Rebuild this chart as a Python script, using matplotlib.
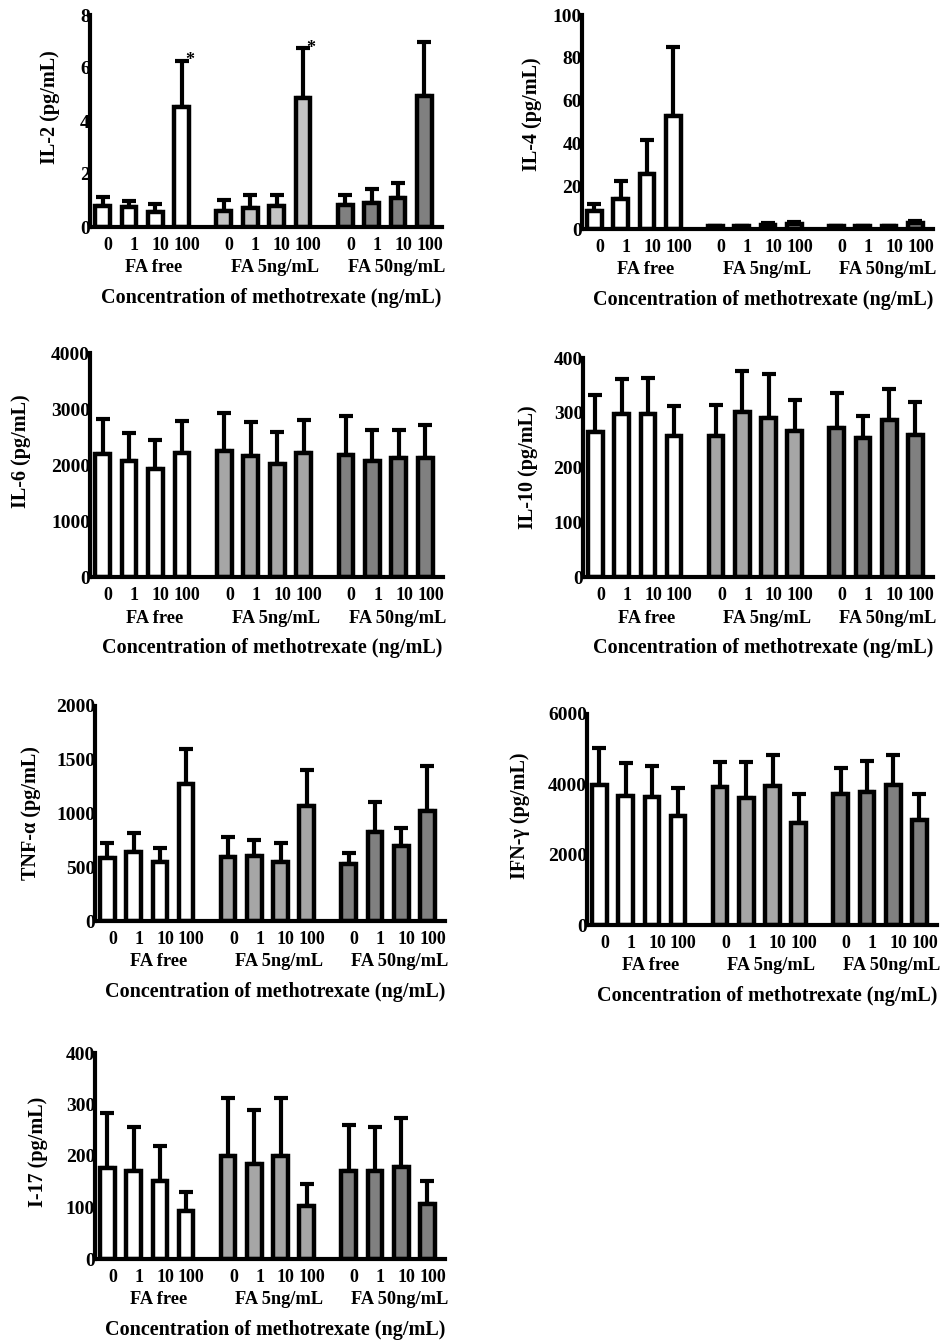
import matplotlib
matplotlib.use("Agg")
import matplotlib.pyplot as plt
import matplotlib.transforms as mtrans
import numpy as np

plt.rcParams['font.family'] = ['Liberation Serif', 'DejaVu Serif']
plt.rcParams['font.weight'] = 'bold'

W, H = 946, 1343

conc_labels = ["0", "1", "10", "100"]
group_labels = ["FA free", "FA 5ng/mL", "FA 50ng/mL"]
xlabel = "Concentration of methotrexate (ng/mL)"

# means and upper error bar tops, per group (FA free, FA 5, FA 50)
il2_mean = [[0.79, 0.74, 0.55, 4.54], [0.62, 0.70, 0.79, 4.85], [0.83, 0.89, 1.10, 4.95]]
il2_top = [[1.13, 0.98, 0.87, 6.28], [1.02, 1.21, 1.21, 6.74], [1.21, 1.43, 1.65, 6.97]]

il4_mean = [[8.2, 14.0, 25.8, 53.0], [1.5, 1.5, 2.0, 2.5], [1.2, 1.2, 1.5, 3.0]]
il4_top = [[11.8, 22.5, 41.7, 85.2], [1.5, 1.5, 2.7, 3.5], [1.2, 1.2, 1.5, 3.8]]

il6_mean = [[2202, 2065, 1935, 2208], [2244, 2155, 2024, 2214], [2173, 2065, 2125, 2125]]
il6_top = [[2821, 2571, 2452, 2780], [2929, 2774, 2589, 2810], [2881, 2631, 2631, 2720]]

il10_mean = [[264, 298, 298, 258], [258, 302, 291, 267], [272, 253, 286, 260]]
il10_top = [[333, 362, 363, 313], [315, 376, 370, 324], [336, 294, 344, 319]]

tnf_mean = [[590, 645, 550, 1275], [597, 605, 553, 1072], [528, 832, 700, 1020]]
tnf_top = [[722, 820, 683, 1600], [785, 752, 722, 1405], [636, 1108, 862, 1440]]

ifn_mean = [[3981, 3678, 3630, 3100], [3915, 3621, 3962, 2910], [3716, 3791, 3981, 2986]]
ifn_top = [[5043, 4616, 4521, 3886], [4645, 4626, 4825, 3725], [4474, 4673, 4825, 3716]]

il17_mean = [[177, 170, 151, 94], [200, 185, 200, 102], [170, 170, 178, 107]]
il17_top = [[283, 256, 219, 130], [312, 290, 312, 146], [260, 257, 274, 152]]

panels = [
    dict(label="IL-2 (pg/mL)", mean=il2_mean, top=il2_top, ticks=[0, 2, 4, 6, 8],
         box=(90, 15, 442, 227), ylab=(40, 14), mid="#c4c4c4", stars=[(0, 3), (1, 3)]),
    dict(label="IL-4 (pg/mL)", mean=il4_mean, top=il4_top, ticks=[0, 20, 40, 60, 80, 100],
         box=(582, 15, 933, 229), ylab=(50, 8), mid="#a6a6a6", stars=[]),
    dict(label="IL-6 (pg/mL)", mean=il6_mean, top=il6_top, ticks=[0, 1000, 2000, 3000, 4000],
         box=(90, 353, 443, 577), ylab=(69, 14), mid="#a6a6a6", stars=[]),
    dict(label="IL-10 (pg/mL)", mean=il10_mean, top=il10_top, ticks=[0, 100, 200, 300, 400],
         box=(583, 358, 933, 577), ylab=(55, 0), mid="#a6a6a6", stars=[]),
    dict(label="TNF-\u03b1 (pg/mL)", mean=tnf_mean, top=tnf_top, ticks=[0, 500, 1000, 1500, 2000],
         box=(95, 706, 445, 921), ylab=(64, 0), mid="#a6a6a6", stars=[]),
    dict(label="IFN-\u03b3 (pg/mL)", mean=ifn_mean, top=ifn_top, ticks=[0, 2000, 4000, 6000],
         box=(587, 714, 937, 925), ylab=(67, 4), mid="#a6a6a6", stars=[]),
    dict(label="I-17 (pg/mL)", mean=il17_mean, top=il17_top, ticks=[0, 100, 200, 300, 400],
         box=(95, 1053, 445, 1259), ylab=(57, 4), mid="#a6a6a6", stars=[]),
]

fig = plt.figure(figsize=(W / 100, H / 100), dpi=100)

group_offsets = [0.0, 4.6, 9.2]
bw = 0.56
lw = 3.2


def below(ax, px):
    return mtrans.blended_transform_factory(
        ax.transData,
        ax.transAxes + mtrans.ScaledTranslation(0, -px / 100, fig.dpi_scale_trans))


for p in panels:
    x0, y0, x1, y1 = p["box"]
    ax = fig.add_axes([x0 / W, 1 - y1 / H, (x1 - x0) / W, (y1 - y0) / H])
    colors = ["white", p["mid"], "#808080"]
    for g in range(3):
        xs = np.arange(4) + group_offsets[g]
        m = np.array(p["mean"][g], dtype=float)
        t = np.array(p["top"][g], dtype=float)
        ax.errorbar(xs, m, yerr=[np.zeros(4), t - m], fmt='none', ecolor='black',
                    elinewidth=3.0, capsize=5.0, capthick=3.0, zorder=2)
        ax.bar(xs, m, width=bw, color=colors[g], edgecolor='black', linewidth=lw, zorder=3)
        for i, lab in enumerate(conc_labels):
            ax.text(xs[i] + 0.2, 0, lab, transform=below(ax, 18),
                    ha='center', va='center', fontsize=13, fontweight='bold')
        gx = group_offsets[g] + 1.5 + 0.45
        ax.text(gx, 0, group_labels[g], transform=below(ax, 41),
                ha='center', va='center', fontsize=13.2, fontweight='bold')
    for (g, i) in p["stars"]:
        ax.text(group_offsets[g] + i + 0.3, p["top"][g][i], "*", ha='center', va='center',
                fontsize=13, fontweight='bold', zorder=5)
    ax.text(6.4, 0, xlabel, transform=below(ax, 71),
            ha='center', va='center', fontsize=14.5, fontweight='bold')
    dx, dy = p["ylab"]
    ax.text(0, 0.5, p["label"],
            transform=ax.transAxes + mtrans.ScaledTranslation(-dx / 100, dy / 100, fig.dpi_scale_trans),
            ha='center', va='center', rotation=90, fontsize=14.5, fontweight='bold')
    ax.set_xlim(-0.475, 12.87)
    ax.set_ylim(0, p["ticks"][-1])
    ax.set_yticks(p["ticks"])
    ax.set_yticklabels([str(v) for v in p["ticks"]], fontsize=14, fontweight='bold')
    ax.set_xticks([])
    ax.tick_params(axis='y', length=0, pad=0)
    for s in ["top", "right"]:
        ax.spines[s].set_visible(False)
    for s in ["left", "bottom"]:
        ax.spines[s].set_linewidth(3.0)
        ax.spines[s].set_zorder(4)
    ax.patch.set_alpha(0)

fig.savefig("out.png", dpi=100)
